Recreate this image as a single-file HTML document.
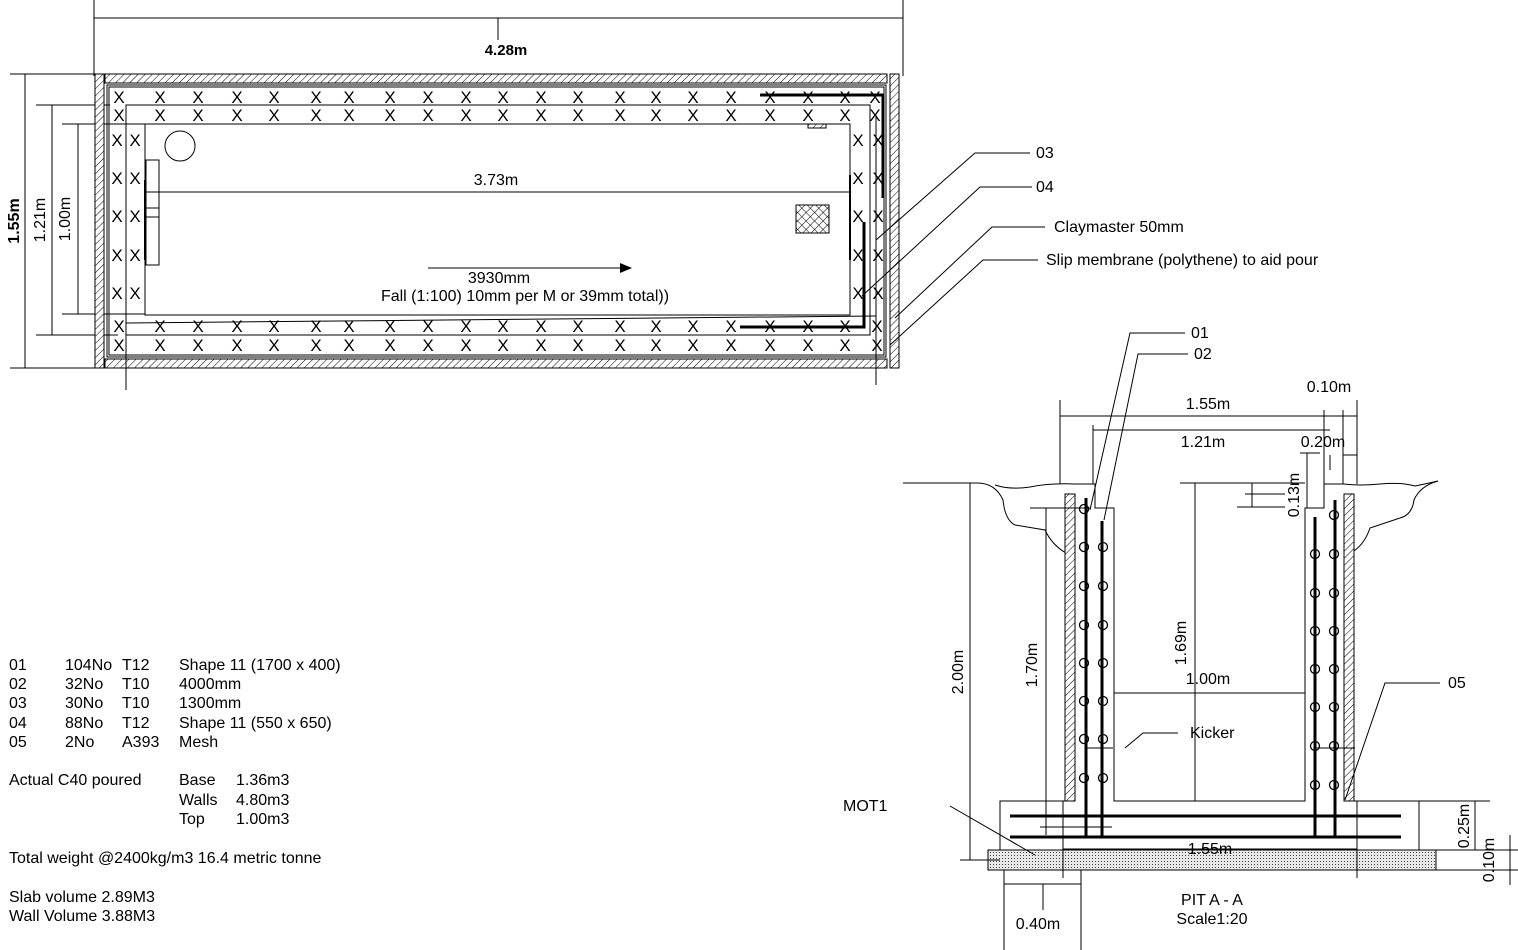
<!DOCTYPE html>
<html><head><meta charset="utf-8"><style>
html,body{margin:0;padding:0;background:#fff;}
svg{display:block;}
text{font-family:"Liberation Sans",Arial,sans-serif;fill:#000;}
</style></head><body>
<svg width="1518" height="950" viewBox="0 0 1518 950" xmlns="http://www.w3.org/2000/svg">
<defs>
<pattern id="h" width="5" height="5" patternUnits="userSpaceOnUse" patternTransform="rotate(45)"><rect width="5" height="5" fill="#fff"/><line x1="0" y1="0" x2="0" y2="5" stroke="#000" stroke-width="1"/></pattern>
<pattern id="cx" width="6" height="6" patternUnits="userSpaceOnUse" patternTransform="rotate(45)"><rect width="6" height="6" fill="#fff"/><line x1="0" y1="0" x2="0" y2="6" stroke="#000" stroke-width="1"/><line x1="0" y1="0" x2="6" y2="0" stroke="#000" stroke-width="1"/></pattern>
<pattern id="dots" width="3" height="3" patternUnits="userSpaceOnUse"><rect width="3" height="3" fill="#e8e8e8"/><rect width="1" height="1" fill="#444"/></pattern>
</defs>
<g fill="none" stroke="#000" stroke-width="1">
<line x1="94" y1="0" x2="94" y2="76"/><line x1="903" y1="0" x2="903" y2="76"/>
<line x1="94" y1="18" x2="903" y2="18"/><line x1="498" y1="18" x2="498" y2="40"/>
<line x1="10" y1="74" x2="95" y2="74"/><line x1="10" y1="368" x2="95" y2="368"/><line x1="25" y1="74" x2="25" y2="368"/>
<line x1="36" y1="105" x2="110" y2="105"/><line x1="36" y1="335" x2="118" y2="335"/><line x1="52" y1="105" x2="52" y2="335"/>
<line x1="62" y1="124" x2="145" y2="124"/><line x1="62" y1="314" x2="145" y2="314"/><line x1="78" y1="124" x2="78" y2="314"/>
<rect x="105" y="74" width="782" height="9" fill="url(#h)"/>
<rect x="105" y="359" width="782" height="9" fill="url(#h)"/>
<rect x="95" y="74" width="9" height="294" fill="url(#h)"/>
<rect x="890" y="74" width="9" height="294" fill="url(#h)"/>
<rect x="107" y="85" width="779" height="272"/>
<rect x="109" y="87" width="775" height="268"/>
<rect x="126" y="105" width="744" height="230"/>
<rect x="145" y="124" width="705" height="191"/>
<line x1="126" y1="335" x2="126" y2="390"/><line x1="876" y1="115" x2="876" y2="385"/>
<line x1="126" y1="323" x2="876" y2="316"/>
<circle cx="180" cy="146" r="15"/>
<rect x="146" y="160" width="13" height="105"/><rect x="146" y="208" width="13" height="9"/>
<line x1="145" y1="180" x2="145" y2="260" stroke-width="2"/>
<line x1="850" y1="175" x2="850" y2="260" stroke-width="2"/>
<rect x="796" y="205" width="33" height="28" fill="url(#cx)"/>
<rect x="808" y="124" width="18" height="4" fill="url(#h)"/>
<line x1="145" y1="192" x2="850" y2="192"/>
<line x1="428" y1="268" x2="620" y2="268"/>
<polyline points="760,95 883,95 883,198" stroke-width="3"/>
<polyline points="740,327 864,327 864,222" stroke-width="3"/>
<polyline points="1030,153 975,153 876,240"/>
<polyline points="1032,187 980,187 862,296"/>
<polyline points="1045,227 992,227 895,318"/>
<polyline points="1038,260 983,260 890,345"/>
</g>
<polygon points="620,263 632,268 620,273" fill="#000"/>
<g font-size="17" text-anchor="middle">
<text x="119 160 198 237 274 316 349 390 428 466 503 541 578 620 656 693 731 770 808 845 875" y="103">XXXXXXXXXXXXXXXXXXXXX</text>
<text x="119 160 198 237 274 316 349 390 428 466 503 541 578 620 656 693 731 770 808 845 875" y="121">XXXXXXXXXXXXXXXXXXXXX</text>
<text x="119 160 198 237 274 316 349 390 428 466 503 541 578 620 656 693 731 770 808 845 877" y="332">XXXXXXXXXXXXXXXXXXXXX</text>
<text x="119 160 198 237 274 316 349 390 428 466 503 541 578 620 656 693 731 770 808 845 877" y="351">XXXXXXXXXXXXXXXXXXXXX</text>
<text x="117 117 117 117 117" y="146 184 222 261 299">XXXXX</text>
<text x="135 135 135 135 135" y="146 184 222 261 299">XXXXX</text>
<text x="858 858 858 858 858" y="146 184 222 261 299">XXXXX</text>
<text x="878 878 878 878 878" y="146 184 222 261 299">XXXXX</text>
</g>
<g font-size="16">
<text x="506" y="55" font-weight="bold" text-anchor="middle" font-size="15">4.28m</text>
<text x="496" y="185" text-anchor="middle">3.73m</text>
<text x="499" y="283" text-anchor="middle">3930mm</text>
<text x="525" y="301" text-anchor="middle">Fall (1:100) 10mm per M or 39mm total))</text>
<text transform="translate(19,221) rotate(-90)" text-anchor="middle" font-weight="bold">1.55m</text>
<text transform="translate(45,220) rotate(-90)" text-anchor="middle">1.21m</text>
<text transform="translate(70,219) rotate(-90)" text-anchor="middle">1.00m</text>
<text x="1036" y="158">03</text>
<text x="1036" y="192">04</text>
<text x="1054" y="232">Claymaster 50mm</text>
<text x="1046" y="265">Slip membrane (polythene) to aid pour</text>
</g>
<g fill="none" stroke="#000" stroke-width="1">
<path d="M903,483 L975,483 Q995,482 1003,500 Q1005,520 1015,525 L1045,530 Q1052,545 1066,553"/>
<path d="M995,485 Q1010,490 1030,487 Q1050,483 1075,484"/>
<path d="M1344,484 Q1360,486 1380,484 Q1400,482 1415,486 Q1425,484 1438,481"/>
<path d="M1438,481 Q1420,486 1414,500 Q1412,515 1400,518 L1370,528 Q1365,543 1354,551"/>
<rect x="1065" y="494" width="10" height="307" fill="url(#h)"/>
<rect x="1344" y="494" width="10" height="307" fill="url(#h)"/>
<polyline points="1075,484 1095,484 1095,508 1114,508 1114,801 1305,801 1305,508 1324,508 1324,484 1344,484"/>
<polyline points="1065,801 1000,801 1000,850 1419,850 1419,801 1354,801"/>
<rect x="988" y="850" width="448" height="20" fill="url(#dots)"/>
<line x1="1010" y1="816" x2="1401" y2="816" stroke-width="3"/>
<line x1="1010" y1="837" x2="1401" y2="837" stroke-width="3"/>
<line x1="1086" y1="498" x2="1086" y2="836" stroke-width="3"/>
<line x1="1102" y1="521" x2="1102" y2="836" stroke-width="3"/>
<line x1="1315" y1="517" x2="1315" y2="836" stroke-width="3"/>
<line x1="1335" y1="500" x2="1335" y2="836" stroke-width="3"/>
<g stroke-width="1.3">
<circle cx="1084" cy="509" r="4.5"/><circle cx="1084" cy="547" r="4.5"/><circle cx="1084" cy="586" r="4.5"/><circle cx="1084" cy="625" r="4.5"/><circle cx="1084" cy="663" r="4.5"/><circle cx="1084" cy="701" r="4.5"/><circle cx="1084" cy="739" r="4.5"/><circle cx="1084" cy="778" r="4.5"/>
<circle cx="1103" cy="547" r="4.5"/><circle cx="1103" cy="586" r="4.5"/><circle cx="1103" cy="625" r="4.5"/><circle cx="1103" cy="663" r="4.5"/><circle cx="1103" cy="701" r="4.5"/><circle cx="1103" cy="739" r="4.5"/><circle cx="1103" cy="778" r="4.5"/>
<circle cx="1334" cy="515" r="4.5"/>
<circle cx="1315" cy="554" r="4.5"/><circle cx="1315" cy="593" r="4.5"/><circle cx="1315" cy="631" r="4.5"/><circle cx="1315" cy="669" r="4.5"/><circle cx="1315" cy="707" r="4.5"/><circle cx="1315" cy="746" r="4.5"/><circle cx="1315" cy="785" r="4.5"/>
<circle cx="1334" cy="554" r="4.5"/><circle cx="1334" cy="593" r="4.5"/><circle cx="1334" cy="631" r="4.5"/><circle cx="1334" cy="669" r="4.5"/><circle cx="1334" cy="707" r="4.5"/><circle cx="1334" cy="746" r="4.5"/><circle cx="1334" cy="785" r="4.5"/>
</g>
<line x1="1086" y1="748" x2="1113" y2="748"/><line x1="1315" y1="748" x2="1355" y2="748"/>
<line x1="970" y1="483" x2="970" y2="860"/><line x1="960" y1="860" x2="1000" y2="860"/>
<line x1="1046" y1="508" x2="1046" y2="835"/><line x1="1030" y1="508" x2="1090" y2="508"/><line x1="1040" y1="827" x2="1112" y2="827"/>
<line x1="1195" y1="483" x2="1195" y2="801"/><line x1="1180" y1="483" x2="1240" y2="483"/>
<line x1="1114" y1="693" x2="1305" y2="693"/>
<line x1="1060" y1="400" x2="1060" y2="484"/><line x1="1357" y1="400" x2="1357" y2="484"/>
<line x1="1060" y1="416" x2="1357" y2="416"/>
<line x1="1093" y1="430" x2="1330" y2="430"/><line x1="1093" y1="425" x2="1093" y2="484"/>
<line x1="1324" y1="410" x2="1324" y2="484"/><line x1="1343" y1="410" x2="1343" y2="484"/>
<line x1="1343" y1="455" x2="1357" y2="455"/><line x1="1330" y1="455" x2="1330" y2="470"/>
<line x1="1307" y1="453" x2="1307" y2="508"/><line x1="1300" y1="453" x2="1320" y2="453"/>
<line x1="1237" y1="483" x2="1305" y2="483"/><line x1="1245" y1="494" x2="1285" y2="494"/><line x1="1237" y1="507" x2="1285" y2="507"/>
<line x1="1252" y1="483" x2="1252" y2="507"/>
<line x1="1419" y1="801" x2="1490" y2="801"/><line x1="1475" y1="801" x2="1475" y2="850"/><line x1="1420" y1="850" x2="1518" y2="850"/>
<line x1="1436" y1="870" x2="1518" y2="870"/><line x1="1510" y1="835" x2="1510" y2="885"/>
<line x1="1063" y1="801" x2="1063" y2="878"/><line x1="1357" y1="801" x2="1357" y2="878"/><line x1="1063" y1="849" x2="1357" y2="849"/>
<line x1="1004" y1="870" x2="1004" y2="950"/><line x1="1081" y1="870" x2="1081" y2="950"/><line x1="1004" y1="884" x2="1081" y2="884"/><line x1="1043" y1="884" x2="1043" y2="910"/>
<polyline points="1185,333 1130,333 1090,510"/>
<polyline points="1188,354 1138,354 1104,520"/>
<polyline points="1440,683 1385,683 1345,800"/>
<polyline points="1178,733 1143,733 1125,748"/>
<line x1="950" y1="806" x2="1035" y2="855"/>
</g>
<g font-size="16">
<text x="1191" y="338">01</text>
<text x="1194" y="359">02</text>
<text x="1329" y="392" text-anchor="middle">0.10m</text>
<text x="1208" y="409" text-anchor="middle">1.55m</text>
<text x="1203" y="447" text-anchor="middle">1.21m</text>
<text x="1323" y="447" text-anchor="middle">0.20m</text>
<text transform="translate(1299,495) rotate(-90)" text-anchor="middle">0.13m</text>
<text transform="translate(963,672) rotate(-90)" text-anchor="middle">2.00m</text>
<text transform="translate(1037,665) rotate(-90)" text-anchor="middle">1.70m</text>
<text transform="translate(1186,643) rotate(-90)" text-anchor="middle">1.69m</text>
<text x="1208" y="684" text-anchor="middle">1.00m</text>
<text x="1448" y="688">05</text>
<text x="1190" y="738">Kicker</text>
<text x="843" y="811">MOT1</text>
<text x="1210" y="854" text-anchor="middle">1.55m</text>
<text transform="translate(1469,826) rotate(-90)" text-anchor="middle">0.25m</text>
<text transform="translate(1494,860) rotate(-90)" text-anchor="middle">0.10m</text>
<text x="1212" y="905" text-anchor="middle">PIT A - A</text>
<text x="1212" y="924" text-anchor="middle">Scale1:20</text>
<text x="1038" y="929" text-anchor="middle">0.40m</text>
</g>
<g font-size="16">
<text x="9" y="670">01</text><text x="65" y="670">104No</text><text x="122" y="670">T12</text><text x="179" y="670">Shape 11 (1700 x 400)</text>
<text x="9" y="689">02</text><text x="65" y="689">32No</text><text x="122" y="689">T10</text><text x="179" y="689">4000mm</text>
<text x="9" y="708">03</text><text x="65" y="708">30No</text><text x="122" y="708">T10</text><text x="179" y="708">1300mm</text>
<text x="9" y="728">04</text><text x="65" y="728">88No</text><text x="122" y="728">T12</text><text x="179" y="728">Shape 11 (550 x 650)</text>
<text x="9" y="747">05</text><text x="65" y="747">2No</text><text x="122" y="747">A393</text><text x="179" y="747">Mesh</text>
<text x="9" y="785">Actual C40 poured</text><text x="179" y="785">Base</text><text x="236" y="785">1.36m3</text>
<text x="179" y="805">Walls</text><text x="236" y="805">4.80m3</text>
<text x="179" y="824">Top</text><text x="236" y="824">1.00m3</text>
<text x="9" y="863">Total weight @2400kg/m3 16.4 metric tonne</text>
<text x="9" y="902">Slab volume 2.89M3</text>
<text x="9" y="921">Wall Volume 3.88M3</text>
</g>
</svg>
</body></html>
